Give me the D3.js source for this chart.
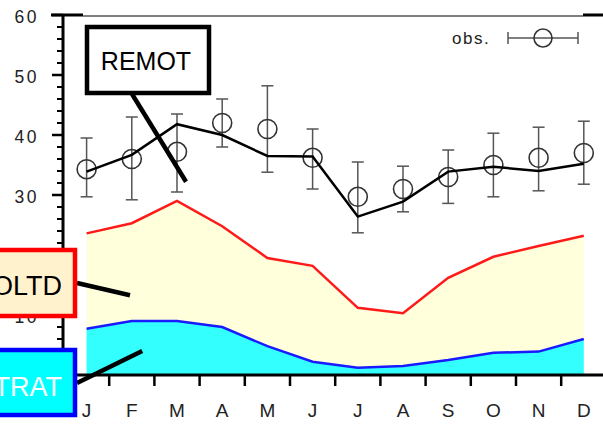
<!DOCTYPE html>
<html>
<head>
<meta charset="utf-8">
<script src="https://cdn.jsdelivr.net/npm/d3@7"></script>
<style>
  body { margin: 0; background: #fff; }
  svg { display: block; font-family: "Liberation Sans", Arial, sans-serif; }
</style>
</head>
<body>
<svg id="chart" width="603" height="424"></svg>
<script>
// data
const months = ["J", "F", "M", "A", "M", "J", "J", "A", "S", "O", "N", "D"]
const obsMean = [34.3, 36, 37.2, 42, 41, 36.2, 29.7, 31, 33, 35, 36.2, 37]
const obsHigh = [39.5, 43, 43.5, 46, 48.2, 41, 35.5, 34.8, 37.5, 40.3, 41.3, 42.3]
const obsLow = [29.7, 29.2, 30.5, 38, 33.8, 31, 23.7, 27.2, 28.6, 29.7, 30.7, 31.8]
const remot = [33.9, 36.7, 41.8, 40, 36.5, 36.4, 26.4, 28.9, 33.9, 34.7, 34, 35.2]
const oltd = [23.6, 25.3, 29, 24.8, 19.5, 18.2, 11.2, 10.3, 16.2, 19.7, 21.5, 23.2]
const strat = [7.7, 9, 9, 8, 4.8, 2.2, 1.2, 1.5, 2.5, 3.7, 3.9, 6]
const yTicks = [0, 10, 20, 30, 40, 50, 60]

const svg = d3.select("#chart")
const width = 603, height = 424

// scales
const x = d3.scaleBand()
  .domain(d3.range(12))
  .range([64, 606.4])
const xc = i => x(Math.floor(i)) + x.bandwidth() / 2 + (i - Math.floor(i)) * x.bandwidth()

const y = d3.scaleLinear()
  .domain([0, 60])
  .range([375, 15])

const rows = months.map((m, i) => ({
  i: i, m: m, obs: obsMean[i], hi: obsHigh[i], lo: obsLow[i],
  remot: remot[i], oltd: oltd[i], strat: strat[i]
}))

// filled areas
svg.append("path")
  .datum(rows)
  .attr("fill", "#ffffdc")
  .attr("d", d3.area().x(d => xc(d.i)).y0(d => y(d.strat)).y1(d => y(d.oltd)))

svg.append("path")
  .datum(rows)
  .attr("fill", "#33ffff")
  .attr("d", d3.area().x(d => xc(d.i)).y0(y(0)).y1(d => y(d.strat)))

svg.append("path")
  .datum(rows)
  .attr("fill", "none")
  .attr("stroke", "#ff1a1a")
  .attr("stroke-width", 2.5)
  .attr("d", d3.line().x(d => xc(d.i)).y(d => y(d.oltd)))

svg.append("path")
  .datum(rows)
  .attr("fill", "none")
  .attr("stroke", "#1a1aff")
  .attr("stroke-width", 2.5)
  .attr("d", d3.line().x(d => xc(d.i)).y(d => y(d.strat)))

// axes
svg.append("line")
  .attr("x1", 63).attr("x2", 63).attr("y1", 14).attr("y2", 376)
  .attr("stroke", "#000").attr("stroke-width", 3)
svg.append("line")
  .attr("x1", 62).attr("x2", width).attr("y1", 375).attr("y2", 375)
  .attr("stroke", "#000").attr("stroke-width", 3)

// top frame
svg.append("line")
  .attr("x1", 83).attr("x2", 583).attr("y1", 16).attr("y2", 16)
  .attr("stroke", "#000").attr("stroke-width", 1)
svg.append("line")
  .attr("x1", 51).attr("x2", 83).attr("y1", 15).attr("y2", 15)
  .attr("stroke", "#000").attr("stroke-width", 3)
svg.append("line")
  .attr("x1", 583).attr("x2", width).attr("y1", 15).attr("y2", 15)
  .attr("stroke", "#000").attr("stroke-width", 3)

// y ticks
svg.selectAll(".ymajor")
  .data(yTicks)
  .enter()
  .append("line")
    .attr("x1", 52).attr("x2", 63)
    .attr("y1", d => y(d)).attr("y2", d => y(d))
    .attr("stroke", "#000").attr("stroke-width", 2.5)

svg.selectAll(".yminor")
  .data(d3.range(0, 61, 2).filter(v => v % 10 !== 0))
  .enter()
  .append("line")
    .attr("x1", 57).attr("x2", 63)
    .attr("y1", d => y(d)).attr("y2", d => y(d))
    .attr("stroke", "#000").attr("stroke-width", 2)

svg.selectAll(".ylab")
  .data(yTicks)
  .enter()
  .append("text")
    .attr("x", 39)
    .attr("y", d => y(d) + 8)
    .attr("text-anchor", "end")
    .attr("font-size", 17.5)
    .attr("letter-spacing", 2.5)
    .attr("fill", "#222")
    .text(d => d)

// x ticks between months
svg.selectAll(".xtick")
  .data(d3.range(1, 12))
  .enter()
  .append("line")
    .attr("x1", d => x(d)).attr("x2", d => x(d))
    .attr("y1", 375).attr("y2", 386)
    .attr("stroke", "#000").attr("stroke-width", 2.5)

svg.selectAll(".xlab")
  .data(rows)
  .enter()
  .append("text")
    .attr("x", d => xc(d.i))
    .attr("y", 417)
    .attr("text-anchor", "middle")
    .attr("font-size", 19)
    .attr("fill", "#222")
    .text(d => d.m)

// observations with error bars
const bars = svg.selectAll(".obs")
  .data(rows)
  .enter()
  .append("g")

bars.append("line")
  .attr("x1", d => xc(d.i)).attr("x2", d => xc(d.i))
  .attr("y1", d => y(d.hi)).attr("y2", d => y(d.lo))
  .attr("stroke", "#555").attr("stroke-width", 1.5)
bars.append("line")
  .attr("x1", d => xc(d.i) - 6).attr("x2", d => xc(d.i) + 6)
  .attr("y1", d => y(d.hi)).attr("y2", d => y(d.hi))
  .attr("stroke", "#555").attr("stroke-width", 1.5)
bars.append("line")
  .attr("x1", d => xc(d.i) - 6).attr("x2", d => xc(d.i) + 6)
  .attr("y1", d => y(d.lo)).attr("y2", d => y(d.lo))
  .attr("stroke", "#555").attr("stroke-width", 1.5)
bars.append("circle")
  .attr("cx", d => xc(d.i)).attr("cy", d => y(d.obs))
  .attr("r", 9.5)
  .attr("fill", "none")
  .attr("stroke", "#333").attr("stroke-width", 1.6)

// model line
svg.append("path")
  .datum(rows)
  .attr("fill", "none")
  .attr("stroke", "#000")
  .attr("stroke-width", 2.5)
  .attr("d", d3.line().x(d => xc(d.i)).y(d => y(d.remot)))

// legend
svg.append("text")
  .attr("x", 452).attr("y", 44)
  .attr("font-size", 17)
  .attr("letter-spacing", 1.5)
  .attr("fill", "#222")
  .text("obs.")
svg.append("line")
  .attr("x1", 508).attr("x2", 578).attr("y1", 38).attr("y2", 38)
  .attr("stroke", "#555").attr("stroke-width", 1.5)
svg.selectAll(".legcap")
  .data([508, 578])
  .enter()
  .append("line")
    .attr("x1", d => d).attr("x2", d => d)
    .attr("y1", 32).attr("y2", 44)
    .attr("stroke", "#555").attr("stroke-width", 1.5)
svg.append("circle")
  .attr("cx", 543).attr("cy", 38).attr("r", 9)
  .attr("fill", "none")
  .attr("stroke", "#333").attr("stroke-width", 1.6)

// labels with leader lines (anchor in data space)
const labels = [
  {name: "REMOT", box: [87, 27, 122, 66], tx: 146, ty: 70, anchor: "middle", size: 25,
   stroke: "#000", fill: "#fff", color: "#000", from: [132, 94], to: [2.2, 32.2]},
  {name: "OLTD", box: [-20, 250, 95, 66], tx: 62, ty: 295, anchor: "end", size: 27,
   stroke: "#ff0000", fill: "#fff2cc", color: "#000", from: [77, 283], to: [0.96, 13.3]},
  {name: "TRAT", box: [-20, 350, 95, 65], tx: 62, ty: 396, anchor: "end", size: 27,
   stroke: "#0000ff", fill: "#00ffff", color: "#fff", from: [77, 383], to: [1.23, 4]}
]

labels.forEach(l => {
  svg.append("line")
    .attr("x1", l.from[0]).attr("y1", l.from[1])
    .attr("x2", xc(l.to[0])).attr("y2", y(l.to[1]))
    .attr("stroke", "#000").attr("stroke-width", 4.5)
  svg.append("rect")
    .attr("x", l.box[0]).attr("y", l.box[1])
    .attr("width", l.box[2]).attr("height", l.box[3])
    .attr("fill", l.fill)
    .attr("stroke", l.stroke).attr("stroke-width", 4.5)
  svg.append("text")
    .attr("x", l.tx).attr("y", l.ty)
    .attr("text-anchor", l.anchor)
    .attr("font-size", l.size)
    .attr("fill", l.color)
    .text(l.name)
})
</script>
</body>
</html>
